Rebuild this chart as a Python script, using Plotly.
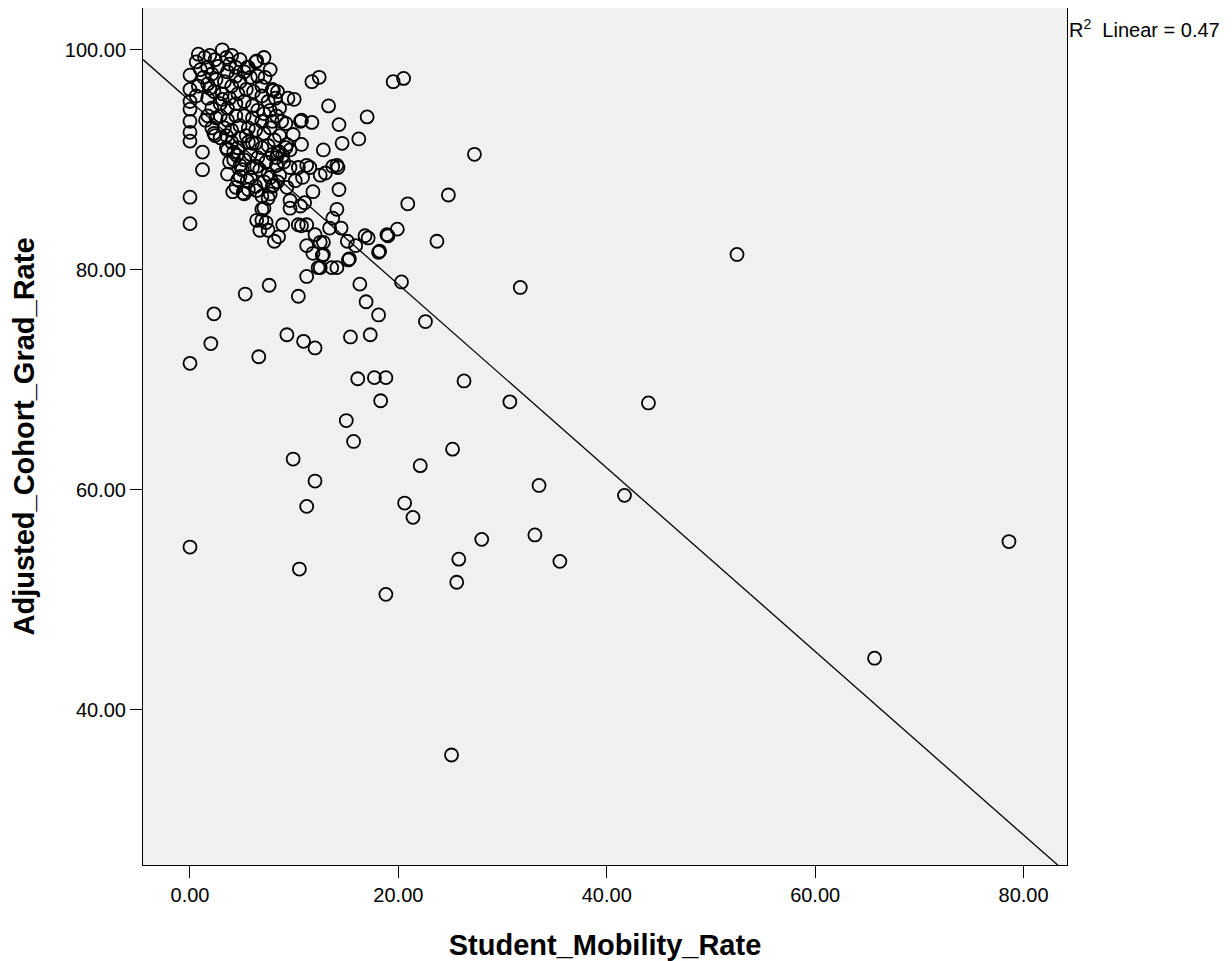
import numpy as np
import plotly.graph_objects as go

# Student_Mobility_Rate (x) and Adjusted_Cohort_Grad_Rate (y)
mobility_sparse = [0.0, 0.0, 0.0, 0.0, 0.0, 0.0, 0.0, 0.0, 0.0, 0.0, 0.0, 1.2, 1.2, 2.0, 2.3, 5.3, 6.6, 7.6,
                   8.1, 8.5, 9.3, 9.9, 10.5, 10.4, 10.9, 11.2, 11.2, 12.0, 12.0, 12.5, 12.7, 12.8, 13.4, 14.1,
                   15.0, 15.4, 15.7, 16.1, 15.3, 15.9, 16.3, 16.9, 17.3, 17.7, 18.1, 18.3, 18.8, 18.8, 18.1,
                   19.0, 19.9, 20.3, 20.6, 21.4, 22.1, 22.6, 23.7, 25.2, 25.6, 25.8, 25.1, 26.3, 28.0, 30.7,
                   31.7, 33.1, 33.5, 35.5, 41.7, 44.0, 52.5, 65.7, 78.6, 24.8, 27.3, 20.9, 20.5, 19.5, 12.4,
                   11.7, 17.0, 13.3, 14.3, 11.7, 10.7, 16.2, 14.6, 12.8, 10.7, 11.2, 14.1]
grad_sparse = [71.5, 54.8, 84.2, 86.6, 91.7, 92.5, 93.5, 94.6, 95.3, 96.4, 97.7, 90.7, 89.1, 73.3, 76.0, 77.8,
               72.1, 78.6, 82.6, 83.0, 74.1, 62.8, 52.8, 77.6, 73.5, 79.4, 58.5, 72.9, 60.8, 80.2, 81.3, 82.5,
               83.8, 80.2, 66.3, 73.9, 64.4, 70.1, 81.0, 82.2, 78.7, 77.1, 74.1, 70.2, 75.9, 68.1, 70.2, 50.5,
               81.6, 83.1, 83.7, 78.9, 58.8, 57.5, 62.2, 75.3, 82.6, 63.7, 51.6, 53.7, 35.9, 69.9, 55.5, 68.0,
               78.4, 55.9, 60.4, 53.5, 59.5, 67.9, 81.4, 44.7, 55.3, 86.8, 90.5, 86.0, 97.4, 97.1, 97.5,
               97.1, 93.9, 94.9, 93.2, 93.4, 93.6, 91.9, 91.5, 90.9, 91.4, 89.5, 89.5]

mobility_mid = [14.2, 13.7, 11.8, 14.3, 11.0, 14.1, 13.7, 14.5, 12.0, 12.5, 11.2, 15.1, 16.8, 17.1, 18.9, 18.2,
                15.2, 11.8, 12.8, 12.3, 13.6, 10.7, 11.5, 12.5, 13.0, 10.8]
grad_mid = [89.3, 89.4, 87.1, 87.3, 86.1, 85.5, 84.7, 83.8, 83.2, 82.5, 82.2, 82.6, 83.1, 82.9, 83.2, 81.7,
            80.9, 81.5, 81.4, 80.2, 80.2, 84.0, 89.3, 88.6, 88.8, 88.4]

mobility_dense = [3.1, 0.8, 1.9, 1.4, 2.4, 3.5, 4.0, 4.8, 6.3, 5.6, 5.2, 4.4, 2.7, 1.7, 1.0, 0.6, 3.8, 4.4, 3.6,
                  2.1, 1.3, 0.8, 1.7, 2.5, 3.3, 4.0, 4.8, 5.8, 6.5, 7.2, 7.7, 6.9, 7.9, 8.4, 8.2, 7.5, 6.9, 6.1,
                  5.4, 4.6, 3.8, 3.1, 2.3, 1.7, 2.9, 3.6, 4.4, 5.2, 6.0, 6.5, 7.1, 7.7, 8.3, 8.8, 7.9, 6.9, 6.0,
                  5.2, 4.4, 3.6, 2.9, 2.1, 3.3, 4.0, 4.8, 5.6, 6.3, 7.1, 7.7, 4.8, 5.6, 6.3, 6.9, 7.5, 8.1, 8.6,
                  9.2, 5.8, 6.5, 7.3, 6.7, 7.5, 8.3, 6.0, 5.2, 4.6, 4.0, 3.5, 4.2, 5.0, 5.8, 6.3, 7.1, 7.7, 6.9,
                  7.1, 7.3, 6.9, 7.5, 6.7, 6.4, 7.7, 7.9, 8.6, 9.0, 8.4, 8.3, 7.9, 1.9, 2.5, 1.5, 2.3, 3.5, 4.2,
                  5.6, 4.8, 3.1, 0.6, 2.1, 2.9, 8.6, 9.4, 10.0, 9.6, 9.2, 3.8, 4.4, 5.2, 3.6, 7.1, 5.4, 6.0,
                  6.4, 7.5, 6.9, 6.4, 10.1, 8.6, 9.3, 9.6, 10.6, 9.6, 8.9, 10.4, 11.2, 5.5, 8.0, 4.1, 4.6, 5.1,
                  2.4, 3.6, 4.5, 4.8, 1.7, 10.6, 9.9, 9.3, 8.9, 8.4, 8.3, 9.6, 10.4, 6.4, 5.5, 8.0]
grad_dense = [100.0, 99.6, 99.5, 99.3, 99.1, 99.3, 99.5, 99.1, 98.9, 98.4, 98.0, 98.4, 98.5, 98.4, 98.2, 98.9,
              98.7, 97.6, 98.0, 97.8, 97.5, 96.7, 96.9, 97.3, 97.1, 96.7, 97.1, 97.5, 97.6, 97.5, 98.2, 96.7,
              96.4, 96.2, 95.6, 95.3, 95.8, 96.2, 96.4, 96.0, 95.6, 96.0, 96.2, 95.6, 95.1, 94.7, 95.1, 95.3,
              94.9, 94.5, 94.2, 94.5, 94.0, 93.5, 93.5, 93.5, 93.8, 94.0, 94.0, 93.6, 94.0, 94.7, 92.9, 92.7,
              93.1, 92.9, 92.7, 92.4, 92.9, 92.0, 91.6, 91.5, 91.1, 91.3, 91.8, 92.2, 93.3, 90.5, 90.2, 89.8,
              89.1, 88.7, 89.5, 89.3, 90.0, 91.1, 91.6, 92.2, 90.7, 89.1, 88.4, 87.6, 88.0, 86.9, 86.7, 85.6,
              84.3, 84.5, 83.6, 83.6, 89.4, 88.4, 87.6, 90.7, 89.8, 88.0, 90.2, 90.5, 96.5, 93.8, 93.6, 92.4,
              91.1, 90.0, 87.3, 88.5, 95.5, 95.8, 92.9, 92.0, 94.7, 95.6, 95.5, 90.9, 91.1, 89.8, 87.5, 86.9,
              88.7, 99.3, 92.2, 91.5, 87.2, 86.5, 85.5, 84.5, 88.1, 88.6, 87.5, 86.3, 85.8, 85.6, 84.1, 84.1,
              84.1, 88.1, 87.7, 87.1, 88.2, 87.0, 92.2, 90.9, 90.4, 89.5, 94.0, 93.5, 92.3, 91.4, 90.4, 90.6,
              89.5, 89.3, 89.3, 99.0, 98.4, 96.3]

# Fit line as drawn in the picture (SPSS linear fit, R^2 = 0.47)
fit_intercept = 95.35
fit_slope = -0.834

x_ticks = [0, 20, 40, 60, 80]
y_ticks = [40, 60, 80, 100]
r2_label = "R<sup>2</sup>\u00a0 Linear = 0.47"

mobility = np.array(mobility_sparse + mobility_mid + mobility_dense)
grad = np.array(grad_sparse + grad_mid + grad_dense)

x_range = [-4.51, 84.17]
y_range = [25.9, 103.8]

line_x = np.array(x_range)
line_y = fit_intercept + fit_slope * line_x

fig = go.Figure()
fig.add_trace(go.Scatter(
    x=line_x, y=line_y, mode="lines",
    line=dict(color="black", width=1.3), hoverinfo="skip", showlegend=False))
fig.add_trace(go.Scatter(
    x=mobility, y=grad, mode="markers",
    marker=dict(symbol="circle-open", size=13, color="black", line=dict(width=1.8, color="black")),
    showlegend=False, cliponaxis=False))

font_family = "Liberation Sans, Arial, sans-serif"
fig.update_layout(
    width=1224, height=953,
    margin=dict(l=135, r=165, t=0, b=96),
    paper_bgcolor="white", plot_bgcolor="#f0f0f0",
    font=dict(family=font_family, color="black", size=20),
    showlegend=False,
    xaxis=dict(range=x_range, tickvals=x_ticks, tickformat=".2f",
               showgrid=False, zeroline=False, showline=True, mirror=True,
               linecolor="black", linewidth=1, ticks="outside", ticklen=12, tickcolor="black",
               tickfont=dict(size=20),
               title=dict(text="<b>Student_Mobility_Rate</b>", font=dict(size=29), standoff=30)),
    yaxis=dict(range=y_range, tickvals=y_ticks, tickformat=".2f",
               showgrid=False, zeroline=False, showline=True, mirror=True,
               linecolor="black", linewidth=1, ticks="outside", ticklen=12, tickcolor="black",
               tickfont=dict(size=20),
               title=dict(text="<b>Adjusted_Cohort_Grad_Rate</b>", font=dict(size=29), standoff=24)),
)
fig.add_annotation(text=r2_label, xref="paper", yref="paper", x=1, y=0.976,
                   xanchor="left", yanchor="middle", xshift=0, showarrow=False,
                   font=dict(size=20, family=font_family))

fig.write_html("out.html")
